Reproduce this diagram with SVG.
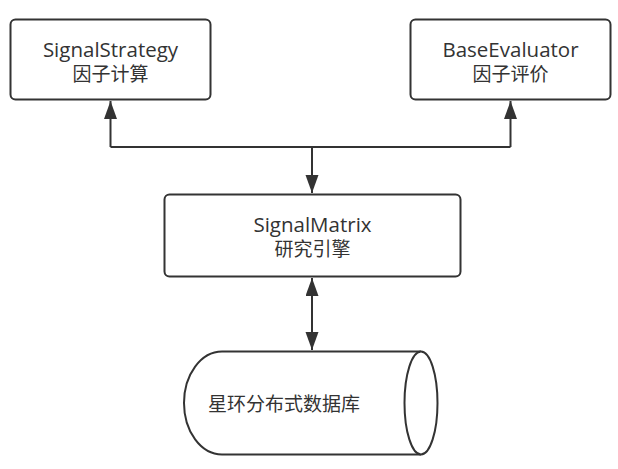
<svg xmlns="http://www.w3.org/2000/svg" width="618" height="469" viewBox="0 0 618 469">
  <style>
    .box { fill: #ffffff; stroke: #333333; stroke-width: 2; }
    .lbl { font-family: "Open Sans", "Noto Sans CJK SC", sans-serif; font-size: 19px; fill: #333333; text-anchor: middle; }
    .lat { font-size: 20.5px; }
    .lblL { font-family: "Open Sans", "Noto Sans CJK SC", sans-serif; font-size: 19px; fill: #333333; }
    .edge { fill: none; stroke: #333333; stroke-width: 2; }
  </style>
  <defs>
    <marker id="arr" markerUnits="userSpaceOnUse" markerWidth="20" markerHeight="14" refX="18" refY="6.5" orient="auto-start-reverse" viewBox="0 0 20 14">
      <path d="M0,0 L18,6.5 L0,13 z" fill="#333333"/>
    </marker>
  </defs>
  <rect width="618" height="469" fill="#ffffff"/>

  <g id="connectors">
    <path class="edge" d="M110.5,147 L510.5,147"/>
    <path class="edge" d="M110.5,147 L110.5,101" marker-end="url(#arr)"/>
    <path class="edge" d="M510.5,147 L510.5,101" marker-end="url(#arr)"/>
    <path class="edge" d="M312,147 L312,193" marker-end="url(#arr)"/>
    <path class="edge" d="M312,278 L312,350" marker-start="url(#arr)" marker-end="url(#arr)"/>
  </g>

  <g id="signal-strategy">
    <rect class="box" x="10.5" y="19.5" width="200" height="80" rx="5"/>
    <text class="lbl lat" x="110.5" y="57">SignalStrategy</text>
    <text class="lbl" x="110.5" y="81">因子计算</text>
  </g>

  <g id="base-evaluator">
    <rect class="box" x="410.5" y="19.5" width="200" height="80" rx="5"/>
    <text class="lbl lat" x="510.5" y="57">BaseEvaluator</text>
    <text class="lbl" x="510.5" y="81">因子评价</text>
  </g>

  <g id="signal-matrix">
    <rect class="box" x="164.5" y="194.5" width="296" height="82" rx="5"/>
    <text class="lbl lat" x="312.5" y="232">SignalMatrix</text>
    <text class="lbl" x="312.5" y="256">研究引擎</text>
  </g>

  <g id="database">
    <path class="box" d="M421,351.5 L222,351.5 A38,51.5 0 0 0 222,454.5 L421,454.5"/>
    <ellipse class="box" cx="421" cy="403" rx="16.5" ry="51.5"/>
    <text class="lblL" x="208" y="411">星环分布式数据库</text>
  </g>
</svg>
